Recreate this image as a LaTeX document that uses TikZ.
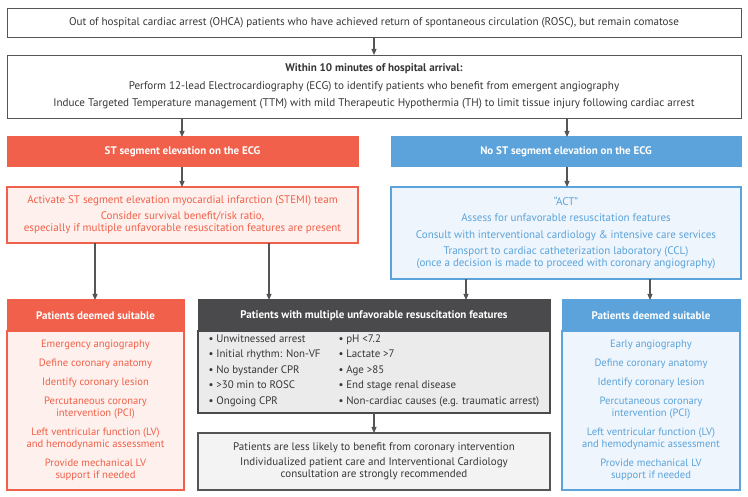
\documentclass[tikz,border=0pt]{standalone}
\usepackage{fontspec}
\setmainfont{PT Sans}
\usetikzlibrary{arrows.meta,calc}
\definecolor{cred}{RGB}{240,96,74}
\definecolor{credl}{RGB}{254,240,236}
\definecolor{cblue}{RGB}{91,163,218}
\definecolor{cbluel}{RGB}{238,245,252}
\definecolor{cdark}{RGB}{74,74,76}
\definecolor{cgrayl}{RGB}{235,235,235}
\definecolor{cgrayb}{RGB}{243,243,243}
\definecolor{ctext}{RGB}{55,55,55}
\definecolor{cline}{RGB}{85,85,85}
\newcommand\fsz[2]{\fontsize{#1}{#2}\selectfont}
\tikzset{
  base/.style={rectangle, align=center, inner sep=0pt, outer sep=0pt},
  wbox/.style={base, draw=cline, line width=0.9pt, fill=white, text=ctext, font=\fsz{11.1}{12}},
  redhead/.style={base, fill=cred, draw=cred, line width=1pt, text=white, font=\bfseries\fsz{11}{12}},
  bluehead/.style={base, fill=cblue, draw=cblue, line width=1pt, text=white, font=\bfseries\fsz{11}{12}},
  darkhead/.style={base, fill=cdark, draw=cdark, line width=1pt, text=white, font=\bfseries\fsz{11}{12}},
  redbody/.style={base, fill=credl, draw=cred, line width=1.2pt, text=cred, font=\fsz{11}{12}},
  bluebody/.style={base, fill=cbluel, draw=cblue, line width=1.2pt, text=cblue, font=\fsz{11}{12}},
  suitsize/.style={font=\fsz{10.6}{12}},
  darkbody/.style={base, fill=cgrayl, draw=cdark, line width=1.2pt},
  greybox/.style={base, fill=cgrayb, draw=cline, line width=1.2pt, text=ctext, font=\fsz{11}{12}},
  coltext/.style={base, align=left, text=ctext, font=\fsz{10.9}{15.5}, anchor=west},
  arr/.style={draw=cline, line width=1.1pt, -{Triangle[length=6pt,width=5pt]}},
}
\begin{document}
\begin{tikzpicture}[x=1pt,y=-1pt]
\useasboundingbox (0,0) rectangle (748,497);

% top boxes
\node[wbox, minimum width=734pt, minimum height=29pt] (ohca) at (374,22.5)
  {Out of hospital cardiac arrest (OHCA) patients who have achieved return of spontaneous circulation (ROSC), but remain comatose};
\node[wbox, minimum width=734pt, minimum height=63pt] (arrival) at (374,86.5)
  {\textbf{Within 10 minutes of hospital arrival:}\\[5.5pt]
   Perform 12-lead Electrocardiography (ECG) to identify patients who benefit from emergent angiography\\[5.5pt]
   Induce Targeted Temperature management (TTM) with mild Therapeutic Hypothermia (TH) to limit tissue injury following cardiac arrest};

% second level headers
\node[redhead, minimum width=351pt, minimum height=30pt] (sthead) at (182.5,152) {ST segment elevation on the ECG};
\node[bluehead, minimum width=350pt, minimum height=30pt] (nosthead) at (566,152) {No ST segment elevation on the ECG};

% action boxes
\node[redbody, minimum width=351pt, minimum height=56pt] (stemi) at (182.5,215)
  {Activate ST segment elevation myocardial infarction (STEMI) team\\[4pt]
   Consider survival benefit/risk ratio,\\
   especially if multiple unfavorable resuscitation features are present};
\node[bluebody, minimum width=350pt, minimum height=92pt] (act) at (566,233)
  {``ACT''\\[4.5pt]
   Assess for unfavorable resuscitation features\\[4.5pt]
   Consult with interventional cardiology \& intensive care services\\[4.5pt]
   Transport to cardiac catheterization laboratory (CCL)\\
   (once a decision is made to proceed with coronary angiography)};

% left suitable
\node[redbody, suitsize, minimum width=177pt, minimum height=159pt] (redsuit) at (95.5,410.5)
  {Emergency angiography\\[7pt]
   Define coronary anatomy\\[7pt]
   Identify coronary lesion\\[7pt]
   Percutaneous coronary\\ intervention (PCI)\\[7pt]
   Left ventricular function (LV)\\ and hemodynamic assessment\\[7pt]
   Provide mechanical LV\\ support if needed};
\node[redhead, minimum width=177pt, minimum height=31pt] (redsuithead) at (95.5,315.5) {Patients deemed suitable};

% middle unfavorable
\node[darkbody, minimum width=352pt, minimum height=82pt] (unfav) at (374,372) {};
\node[darkhead, minimum width=352pt, minimum height=31pt] (unfavhead) at (374,315.5) {Patients with multiple unfavorable resuscitation features};
\node[coltext] (featl) at (208.5,370.5)
  {• Unwitnessed arrest\\ • Initial rhythm: Non-VF\\ • No bystander CPR\\ • >30 min to ROSC\\ • Ongoing CPR};
\node[coltext] (featr) at (338.5,370.5)
  {• pH <7.2\\ • Lactate >7\\ • Age >85\\ • End stage renal disease\\ • Non-cardiac causes (e.g. traumatic arrest)};

% bottom grey
\node[greybox, minimum width=352pt, minimum height=57pt] (less) at (374,461.5)
  {Patients are less likely to benefit from coronary intervention\\[3pt]
   Individualized patient care and Interventional Cardiology\\
   consultation are strongly recommended};

% right suitable
\node[bluebody, suitsize, minimum width=178pt, minimum height=159pt] (bluesuit) at (651,410.5)
  {Early angiography\\[7pt]
   Define coronary anatomy\\[7pt]
   Identify coronary lesion\\[7pt]
   Percutaneous coronary\\ intervention (PCI)\\[7pt]
   Left ventricular function (LV)\\ and hemodynamic assessment\\[7pt]
   Provide mechanical LV\\ support if needed};
\node[bluehead, minimum width=178pt, minimum height=31pt] (bluesuithead) at (651,315.5) {Patients deemed suitable};

% connector columns
\coordinate (xa) at (182,0);
\coordinate (xb) at (567,0);
\coordinate (xc) at (95,0);
\coordinate (xd) at (269,0);
\coordinate (xe) at (466,0);
\coordinate (xf) at (650,0);

\draw[arr] (ohca) -- (arrival);
\draw[arr] (arrival.south -| xa) -- (sthead.north -| xa);
\draw[arr] (arrival.south -| xb) -- (nosthead.north -| xb);
\draw[arr] (sthead.south -| xa) -- (stemi.north -| xa);
\draw[arr] (nosthead.south -| xb) -- (act.north -| xb);
\draw[arr] (stemi.south -| xc) -- (redsuithead.north -| xc);
\draw[arr] (stemi.south -| xd) -- (unfavhead.north -| xd);
\draw[arr] (act.south -| xe) -- (unfavhead.north -| xe);
\draw[arr] (act.south -| xf) -- (bluesuithead.north -| xf);
\draw[arr] (unfav) -- (less);
\end{tikzpicture}
\end{document}
